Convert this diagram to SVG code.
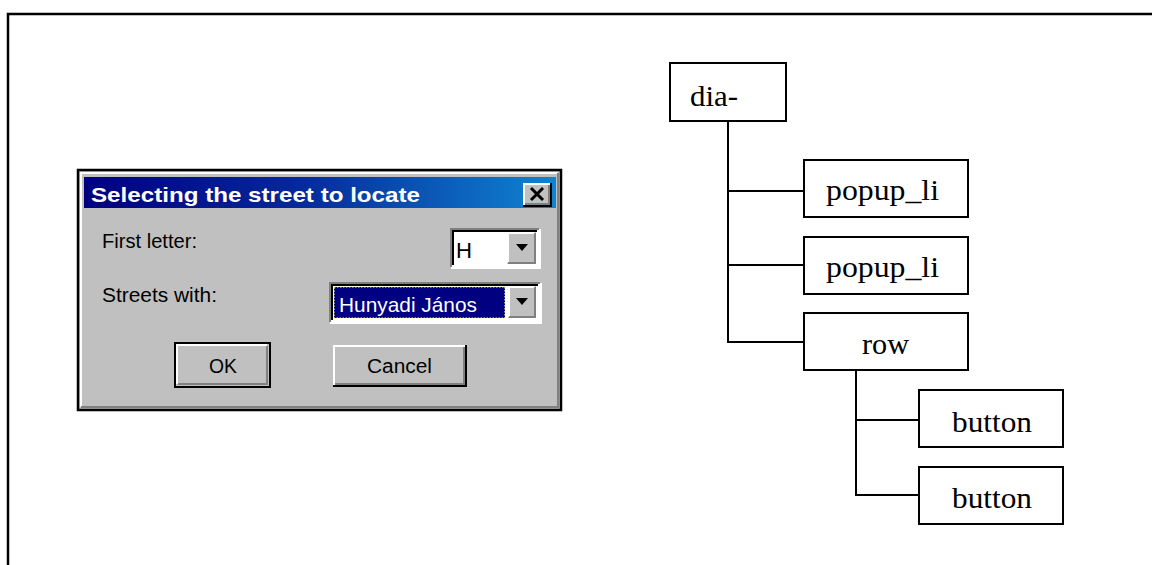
<svg xmlns="http://www.w3.org/2000/svg" width="1152" height="565" viewBox="0 0 1152 565">
  <defs>
    <linearGradient id="titleGrad" x1="0" y1="0" x2="1" y2="0">
      <stop offset="0" stop-color="#000080"/>
      <stop offset="0.45" stop-color="#05289a"/>
      <stop offset="1" stop-color="#1084d0"/>
    </linearGradient>
    <style>
      .frame { fill: none; stroke: #000; stroke-width: 2.5; }
      .node rect { fill: #fff; stroke: #000; stroke-width: 2; }
      .node text { font-family: "Liberation Serif", "Times New Roman", serif; font-size: 30px; fill: #000; }
      .conn path { fill: none; stroke: #000; stroke-width: 2; }
      .ui { font-family: "Liberation Sans", Arial, sans-serif; font-size: 20px; fill: #000; }
      .hi { stroke: #fff; stroke-width: 2; fill: none; }
      .sh { stroke: #808080; stroke-width: 2; fill: none; }
      .dk { stroke: #000; stroke-width: 2; fill: none; }
    </style>
  </defs>

  <rect width="1152" height="565" fill="#fff"/>

  <!-- page frame: left and top edges only -->
  <path class="frame" d="M8,565 V14 H1152"/>

  <!-- dialog window -->
  <g id="dialog">
    <rect x="78" y="170" width="483" height="240" fill="#c0c0c0" stroke="#000" stroke-width="2.5"/>
    <path class="hi" d="M81,407 V173 H558"/>
    <path class="sh" d="M81,407 H558 V173"/>
    <!-- title bar -->
    <rect x="84" y="177" width="472" height="31" fill="url(#titleGrad)"/>
    <text x="91" y="202" font-family="Liberation Sans, Arial, sans-serif" font-weight="bold" font-size="21" fill="#fff" textLength="329" lengthAdjust="spacingAndGlyphs">Selecting the street to locate</text>
    <!-- close box -->
    <g id="close-box">
      <rect x="523" y="183" width="28" height="23" fill="#c0c0c0"/>
      <path class="hi" d="M524,205 V184 H550"/>
      <path class="dk" d="M523,206 H551 V183"/>
      <path class="sh" d="M525,204 H549 V185"/>
      <path d="M531,188 L543,200 M543,188 L531,200" stroke="#000" stroke-width="3" fill="none"/>
    </g>

    <!-- labels -->
    <text class="ui" x="102" y="248" textLength="95" lengthAdjust="spacingAndGlyphs">First letter:</text>
    <text class="ui" x="102" y="302" textLength="115" lengthAdjust="spacingAndGlyphs">Streets with:</text>

    <!-- first-letter combo -->
    <g id="combo-letter">
      <rect x="451" y="229" width="88" height="38" fill="#fff"/>
      <path class="sh" d="M451,267 V229 H539"/>
      <path class="dk" d="M453,265 V231 H537"/>
      <path class="hi" d="M451,268 H540 V229"/>
      <text class="ui" x="456" y="258" style="font-size:22px" textLength="16" lengthAdjust="spacingAndGlyphs">H</text>
      <rect x="507" y="232" width="29" height="32" fill="#c0c0c0"/>
      <path class="hi" d="M508,263 V233 H535"/>
      <path class="sh" d="M508,263 H535 V233"/>
      <path d="M516,244 H528 L522,251 Z" fill="#000"/>
    </g>

    <!-- street combo -->
    <g id="combo-street">
      <rect x="330" y="283" width="210" height="39" fill="#fff"/>
      <path class="sh" d="M330,322 V283 H540"/>
      <path class="dk" d="M332,320 V285 H538"/>
      <path class="hi" d="M330,323 H541 V283"/>
      <rect x="334" y="287" width="171" height="31" fill="#000080" stroke="#ffff80" stroke-width="1.2" stroke-dasharray="1.5,1.5"/>
      <text class="ui" x="339" y="312" style="font-size:21px;fill:#fff" textLength="138" lengthAdjust="spacingAndGlyphs">Hunyadi János</text>
      <rect x="508" y="286" width="28" height="32" fill="#c0c0c0"/>
      <path class="hi" d="M509,317 V287 H535"/>
      <path class="sh" d="M509,317 H535 V287"/>
      <path d="M516,298 H528 L522,305 Z" fill="#000"/>
    </g>

    <!-- OK button (default) -->
    <g id="btn-ok">
      <rect x="175" y="343" width="95" height="44" fill="#c0c0c0" stroke="#000" stroke-width="2"/>
      <path class="hi" d="M177,384 V345 H267"/>
      <path class="sh" d="M178,384 H267 V346"/>
      <text class="ui" x="209" y="373" textLength="28" lengthAdjust="spacingAndGlyphs">OK</text>
    </g>

    <!-- Cancel button -->
    <g id="btn-cancel">
      <rect x="333" y="345" width="133" height="41" fill="#c0c0c0"/>
      <path class="hi" d="M334,385 V346 H465"/>
      <path class="dk" d="M333,386 H466 V345"/>
      <path class="sh" d="M335,384 H464 V347"/>
      <text class="ui" x="367" y="373" textLength="65" lengthAdjust="spacingAndGlyphs">Cancel</text>
    </g>
  </g>

  <!-- tree connectors -->
  <g id="connectors" class="conn">
    <path d="M728,121 V343"/>
    <path d="M728,191 H804"/>
    <path d="M728,265 H804"/>
    <path d="M728,342 H804"/>
    <path d="M856,370 V496"/>
    <path d="M856,420 H919"/>
    <path d="M856,495 H919"/>
  </g>

  <!-- tree nodes -->
  <g id="node-dia" class="node">
    <rect x="670" y="63" width="116" height="58"/>
    <text x="690" y="106" textLength="48" lengthAdjust="spacingAndGlyphs">dia-</text>
  </g>
  <g id="node-popup1" class="node">
    <rect x="804" y="160" width="164" height="57"/>
    <text x="826" y="200" textLength="113" lengthAdjust="spacingAndGlyphs">popup_li</text>
  </g>
  <g id="node-popup2" class="node">
    <rect x="804" y="237" width="164" height="57"/>
    <text x="826" y="277" textLength="113" lengthAdjust="spacingAndGlyphs">popup_li</text>
  </g>
  <g id="node-row" class="node">
    <rect x="804" y="313" width="164" height="57"/>
    <text x="862" y="354" textLength="47" lengthAdjust="spacingAndGlyphs">row</text>
  </g>
  <g id="node-button1" class="node">
    <rect x="919" y="390" width="144" height="57"/>
    <text x="952" y="432" textLength="80" lengthAdjust="spacingAndGlyphs">button</text>
  </g>
  <g id="node-button2" class="node">
    <rect x="919" y="467" width="144" height="57"/>
    <text x="952" y="508" textLength="80" lengthAdjust="spacingAndGlyphs">button</text>
  </g>
</svg>
